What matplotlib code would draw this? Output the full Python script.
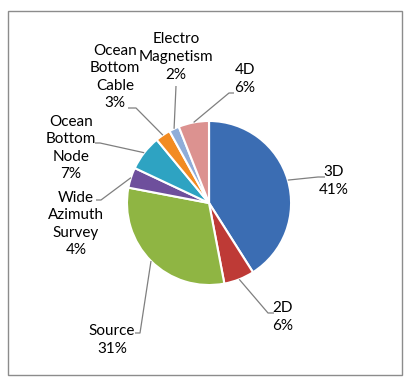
import numpy as np
import matplotlib.pyplot as plt
from matplotlib.patches import Rectangle

# slice data, clockwise from 12 o'clock
labels = ['3D', '2D', 'Source', 'Wide\nAzimuth\nSurvey', 'Ocean\nBottom\nNode',
          'Ocean\nBottom\nCable', 'Electro\nMagnetism', '4D']
shares = [41, 6, 31, 4, 7, 3, 2, 6]
colors = ['#3b6db3', '#be3a36', '#8fb543', '#6e4f9c', '#2ea3c2',
          '#f28b22', '#8fadd9', '#dc9290']

W, H = 414, 382
plt.rcParams['font.family'] = ['Lato', 'DejaVu Sans']

fig = plt.figure(figsize=(W / 100, H / 100), dpi=100)
ax = fig.add_axes([0, 0, 1, 1])

explode = [0.075, 0.08, 0.03, 0.025, 0.02, 0.02, 0.02, 0.025]
wedges, _ = ax.pie(shares, colors=colors, startangle=90, counterclock=False,
                   center=(209, H - 203), radius=82, explode=explode,
                   wedgeprops=dict(edgecolor='white', linewidth=1.5))

# label layout in pixel coords (text centre, elbow, line end)
text_pos = [(334, 181), (283, 317), (112, 340), (76, 224), (71, 148),
            (115, 77), (176, 57), (245, 79)]
elbows = [(318, 177), (268, 313), (140, 333), (101, 200), (100, 143),
          (136, 108), (176, 86), (229, 93)]
ends = [(325, 177), (274, 313), (135, 333), (96, 200), (95, 143),
        (128, 108), (176, 86), (234, 93)]

for w, name, v, tp, el, en in zip(wedges, labels, shares, text_pos, elbows, ends):
    mid = np.deg2rad((w.theta1 + w.theta2) / 2)
    cx, cy = w.center
    px, py = cx + w.r * np.cos(mid), cy + w.r * np.sin(mid)
    ax.plot([px, el[0], en[0]], [py, H - el[1], H - en[1]],
            color='#7f7f7f', lw=0.9, solid_capstyle='butt')
    ax.text(tp[0], H - tp[1], f'{name}\n{v}%', ha='center', va='center',
            fontsize=11, color='black', linespacing=1.33)

ax.add_patch(Rectangle((8, H - 375), 394, 364, fill=False,
                       edgecolor='#8c8c8c', lw=1))
ax.set_xlim(0, W)
ax.set_ylim(0, H)
ax.set_aspect('equal')
ax.axis('off')

fig.savefig('out.png', dpi=100)
